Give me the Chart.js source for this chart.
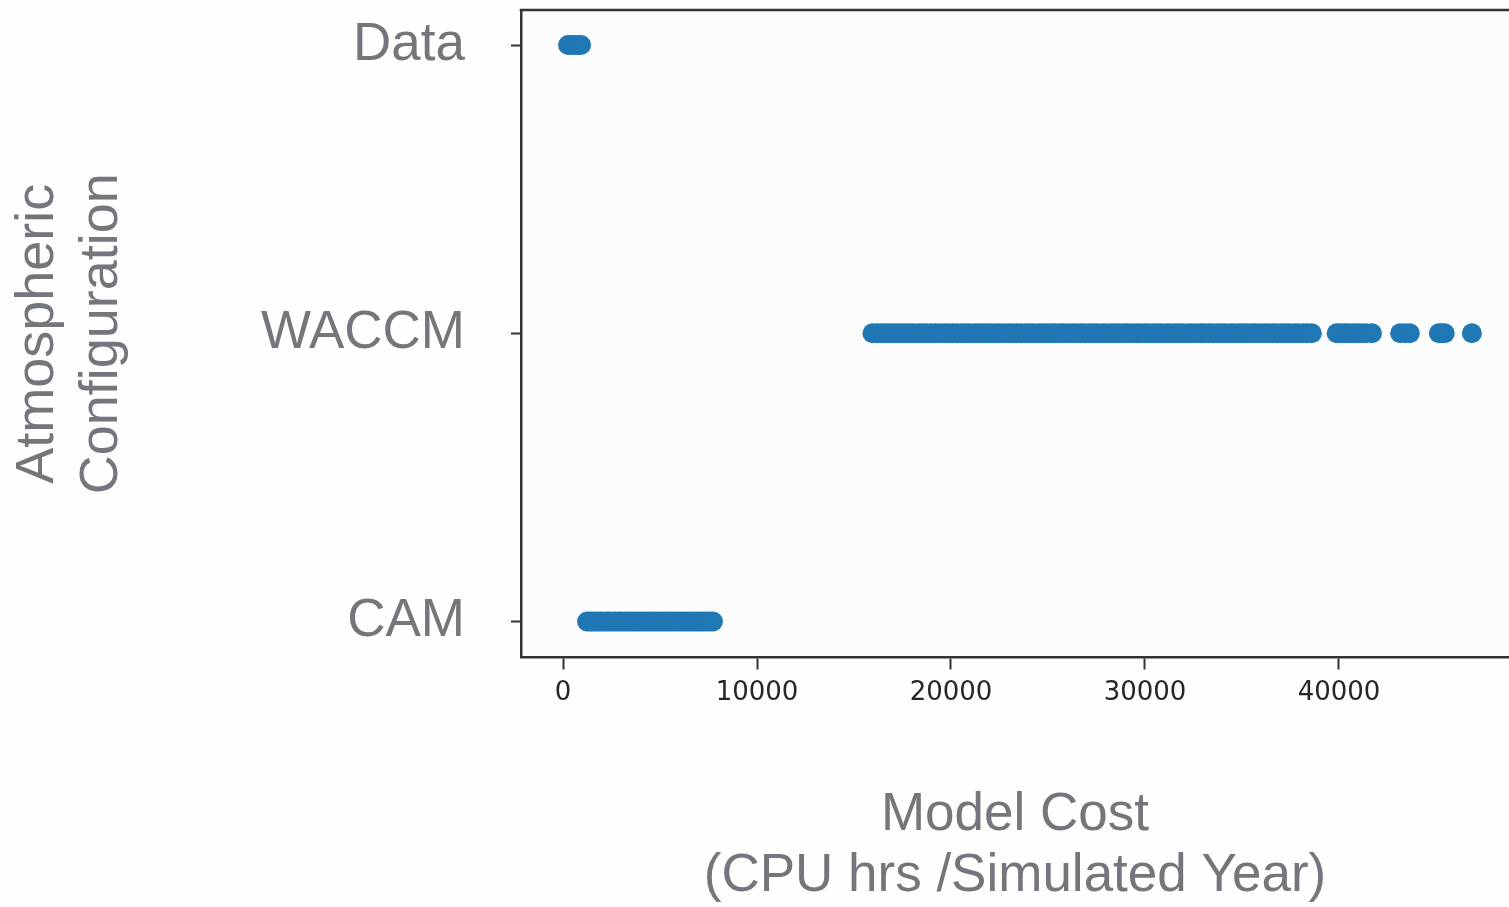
<!DOCTYPE html>
<html>
<head>
<meta charset="utf-8">
<title>Model Cost by Atmospheric Configuration</title>
<script src="https://cdn.jsdelivr.net/npm/chart.js@4/dist/chart.umd.min.js"></script>
<style>
  html, body { margin: 0; padding: 0; background: #ffffff; }
  #wrap { width: 1509px; height: 907px; }
</style>
</head>
<body>
<div id="wrap"><canvas id="c" width="1509" height="907"></canvas></div>
<script>
// Configurations on the vertical axis (bottom to top)
const configurations = ['CAM', 'WACCM', 'Data'];

// Model cost, CPU hours per simulated year, for each run
const camCost = [1240, 1390, 1530, 1700, 1860, 2010, 2190, 2340, 2500, 2680, 2850, 3010,
  3180, 3360, 3520, 3700, 3880, 4040, 4220, 4390, 4560, 4740, 4900, 5080, 5250, 5420,
  5600, 5780, 5950, 6130, 6300, 6480, 6650, 6830, 7000, 7180, 7360, 7540, 7730];

const waccmCost = [15950, 16170, 16390, 16600, 16820, 17030, 17250, 17460, 17680, 17900,
  18100, 18330, 18550, 18760, 18990, 19200, 19430, 19650, 19860, 20090, 20300, 20530,
  20750, 20960, 21190, 21400, 21630, 21850, 22060, 22290, 22500, 22730, 22950, 23160,
  23390, 23600, 23830, 24050, 24260, 24490, 24700, 24930, 25150, 25360, 25590, 25800,
  26030, 26250, 26460, 26690, 26900, 27130, 27350, 27560, 27790, 28000, 28230, 28450,
  28660, 28890, 29100, 29330, 29550, 29760, 29990, 30200, 30430, 30650, 30860, 31090,
  31300, 31530, 31750, 31960, 32190, 32400, 32630, 32850, 33060, 33290, 33500, 33730,
  33950, 34160, 34390, 34600, 34830, 35050, 35260, 35490, 35700, 35930, 36150, 36360,
  36590, 36800, 37030, 37250, 37460, 37690, 37900, 38130, 38350, 38600,
  39880, 40090, 40310, 40520, 40740, 40950, 41170, 41400, 41700,
  43150, 43400, 43650, 45150, 45300, 45450, 46850];

const dataCost = [260, 420, 600, 780, 930];

// Tick positions on the cost axis
const costTicks = [0, 10000, 20000, 30000, 40000];

const pointColor = '#1f77b4';
const labelGray = '#73767a';
const spineColor = '#333333';

function toPoints(costs, config) {
  const yIndex = configurations.indexOf(config);
  return costs.map(v => ({ x: v, y: yIndex }));
}

// Background and the upper frame line of the plot box
const framePlugin = {
  id: 'frame',
  beforeDraw(chart) {
    const { ctx, chartArea: a } = chart;
    ctx.save();
    ctx.fillStyle = '#fefefe';
    ctx.fillRect(0, 0, chart.width, chart.height);
    ctx.fillStyle = '#fcfcfc';
    ctx.fillRect(a.left, a.top, a.right - a.left, a.bottom - a.top);
    ctx.restore();
  },
  afterDraw(chart) {
    const { ctx, chartArea: a } = chart;
    ctx.save();
    ctx.strokeStyle = spineColor;
    ctx.lineWidth = 2.5;
    ctx.beginPath();
    ctx.moveTo(a.left - 1.25, a.top);
    ctx.lineTo(a.right, a.top);
    ctx.stroke();
    ctx.restore();
  }
};

// Fixed axis boxes: no extra room reserved for overhanging labels
function fixBox(size, key) {
  return function (scale) {
    scale[key] = size;
    scale.paddingTop = 0;
    scale.paddingBottom = 0;
    scale.paddingLeft = 0;
    scale.paddingRight = 0;
  };
}

const ds = (label, costs) => ({
  label,
  data: toPoints(costs, label),
  backgroundColor: pointColor,
  borderWidth: 0,
  pointRadius: 10,
  pointHoverRadius: 10
});

new Chart(document.getElementById('c'), {
  type: 'scatter',
  data: {
    datasets: [ds('CAM', camCost), ds('WACCM', waccmCost), ds('Data', dataCost)]
  },
  options: {
    responsive: false,
    animation: false,
    events: [],
    layout: { autoPadding: false, padding: { top: 10, left: 0, right: 0, bottom: 0 } },
    plugins: {
      legend: { display: false },
      tooltip: { enabled: false },
      title: { display: false }
    },
    scales: {
      x: {
        type: 'linear',
        position: 'bottom',
        min: -2165,
        max: 48763,
        afterBuildTicks(scale) {
          scale.ticks = costTicks.map(v => ({ value: v }));
        },
        afterFit: fixBox(249.5, 'height'),
        ticks: {
          includeBounds: false,
          autoSkip: false,
          maxRotation: 0,
          padding: 8,
          color: '#262626',
          font: { family: 'DejaVu Sans', size: 26 },
          callback: v => String(v)
        },
        grid: {
          drawOnChartArea: false,
          drawTicks: true,
          tickLength: 12,
          tickWidth: 2,
          tickColor: spineColor
        },
        border: { display: true, color: spineColor, width: 2.5 },
        title: {
          display: true,
          text: ['Model Cost', '(CPU hrs /Simulated Year)'],
          color: labelGray,
          font: { family: 'Liberation Sans', size: 53, lineHeight: 1.15 },
          padding: { top: 0, bottom: 0 }
        }
      },
      y: {
        type: 'linear',
        position: 'left',
        min: -0.125,
        max: 2.1215,
        afterBuildTicks(scale) {
          scale.ticks = configurations.map((_, i) => ({ value: i }));
        },
        afterFit: fixBox(521, 'width'),
        ticks: {
          includeBounds: false,
          autoSkip: false,
          padding: 46,
          color: labelGray,
          font: { family: 'Liberation Sans', size: 53 },
          callback: v => configurations[v] ?? ''
        },
        grid: {
          drawOnChartArea: false,
          drawTicks: true,
          tickLength: 10,
          tickWidth: 2,
          tickColor: spineColor
        },
        border: { display: true, color: spineColor, width: 2.5 },
        title: {
          display: true,
          text: ['Atmospheric', 'Configuration'],
          color: labelGray,
          font: { family: 'Liberation Sans', size: 54, lineHeight: 1.17 },
          padding: { top: 7, bottom: 0 }
        }
      }
    }
  },
  plugins: [framePlugin]
});
</script>
</body>
</html>
